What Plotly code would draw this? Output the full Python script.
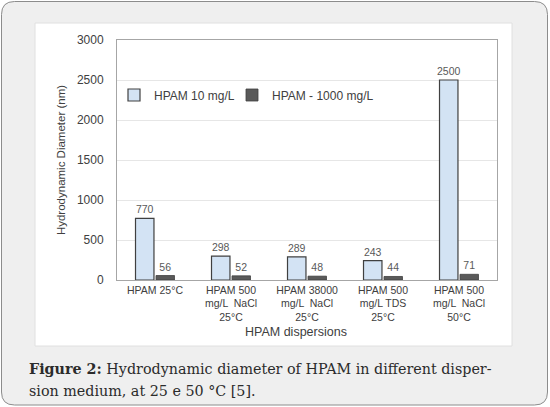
import plotly.graph_objects as go

categories = ["HPAM 25°C", "HPAM 500<br>mg/L  NaCl<br>25°C", "HPAM 38000<br>mg/L  NaCl<br>25°C",
              "HPAM 500<br>mg/L TDS<br>25°C", "HPAM 500<br>mg/L  NaCl<br>50°C"]
hpam_10 = [770, 298, 289, 243, 2500]
hpam_1000 = [56, 52, 48, 44, 71]
series_names = ["HPAM 10 mg/L", "HPAM - 1000 mg/L"]
y_ticks = [0, 500, 1000, 1500, 2000, 2500, 3000]
caption_lines = ["<b>Figure 2:</b> Hydrodynamic diameter of HPAM in different disper-",
                 "sion medium, at 25 e 50 °C [5]."]

W, H = 550, 407
L, R, T, B = 117, 497, 40, 280  # plot area in pixels


def px(x):
    return (x - L) / (R - L)


def py(y):
    return (B - y) / (B - T)


label_font = dict(size=10.5, color="#595959", family="Liberation Sans")

fig = go.Figure()
fig.add_trace(go.Bar(
    x=categories, y=hpam_10, name=series_names[0], legend="legend",
    marker=dict(color="#d3e3f4", line=dict(color="#404040", width=1.2)),
    text=[str(v) for v in hpam_10], textposition="outside", textfont=label_font,
    cliponaxis=False, constraintext="none",
))
fig.add_trace(go.Bar(
    x=categories, y=hpam_1000, name=series_names[1], legend="legend2",
    marker=dict(color="#5a5a5a", line=dict(color="#404040", width=0.8)),
    text=[str(v) for v in hpam_1000], textposition="outside", textfont=label_font,
    cliponaxis=False, constraintext="none",
))


def rounded(x0, y0, x1, y1, r):
    pts = [
        f"M {px(x0 + r)},{py(y0)}",
        f"L {px(x1 - r)},{py(y0)}",
        f"Q {px(x1)},{py(y0)} {px(x1)},{py(y0 + r)}",
        f"L {px(x1)},{py(y1 - r)}",
        f"Q {px(x1)},{py(y1)} {px(x1 - r)},{py(y1)}",
        f"L {px(x0 + r)},{py(y1)}",
        f"Q {px(x0)},{py(y1)} {px(x0)},{py(y1 - r)}",
        f"L {px(x0)},{py(y0 + r)}",
        f"Q {px(x0)},{py(y0)} {px(x0 + r)},{py(y0)}",
        "Z",
    ]
    return " ".join(pts)


shapes = [
    dict(type="path", xref="paper", yref="paper", path=rounded(1.5, 1.5, 547.5, 405, 13),
         fillcolor="#efefef", line=dict(color="#8c8c8c", width=1), layer="below"),
    dict(type="rect", xref="paper", yref="paper", x0=px(35), x1=px(512), y0=py(23), y1=py(346),
         fillcolor="#ffffff", line=dict(color="#e0e0e0", width=1), layer="below"),
]

annotations = [
    dict(text="HPAM dispersions", xref="paper", yref="paper", x=px(296), y=py(332),
         showarrow=False, font=dict(size=12.5, color="#404040", family="Liberation Sans"),
         xanchor="center", yanchor="middle"),
    dict(text=caption_lines[0], xref="paper", yref="paper", x=px(27), y=py(369),
         showarrow=False, align="left", xanchor="left", yanchor="middle",
         font=dict(size=14.3, color="#2b2b2b", family="DejaVu Serif")),
    dict(text=caption_lines[1], xref="paper", yref="paper", x=px(27), y=py(391),
         showarrow=False, align="left", xanchor="left", yanchor="middle",
         font=dict(size=14.3, color="#2b2b2b", family="DejaVu Serif")),
]

legend_common = dict(orientation="h", yanchor="middle", bgcolor="rgba(0,0,0,0)",
                     font=dict(size=12, color="#404040", family="Liberation Sans"),
                     itemwidth=30)

fig.update_layout(
    width=W, height=H,
    margin=dict(l=L, r=W - R, t=T, b=H - B, autoexpand=False),
    paper_bgcolor="#ffffff", plot_bgcolor="rgba(0,0,0,0)",
    barmode="group", bargap=0.46, bargroupgap=0.1,
    shapes=shapes, annotations=annotations,
    font=dict(family="Liberation Sans", color="#404040"),
    legend=dict(x=px(114), y=py(95), xanchor="left", **legend_common),
    legend2=dict(x=px(232), y=py(95), xanchor="left", **legend_common),
    showlegend=True,
    xaxis=dict(showline=True, linecolor="#a6a6a6", linewidth=1, mirror=True,
               tickfont=dict(size=10.5, color="#404040"), ticks="", showgrid=False),
    yaxis=dict(range=[0, 3000], tickvals=y_ticks, showline=True, linecolor="#a6a6a6",
               linewidth=1, mirror=True, showgrid=True, gridcolor="#e6e6e6",
               zeroline=False, ticks="", ticklabelstandoff=10,
               tickfont=dict(size=12, color="#404040"),
               title=dict(text="Hydrodynamic Diameter (nm)", font=dict(size=11.5, color="#404040"),
                          standoff=8)),
)

fig.write_html("out.html", config={"displayModeBar": False},
               post_script="document.body.style.margin='0';")
